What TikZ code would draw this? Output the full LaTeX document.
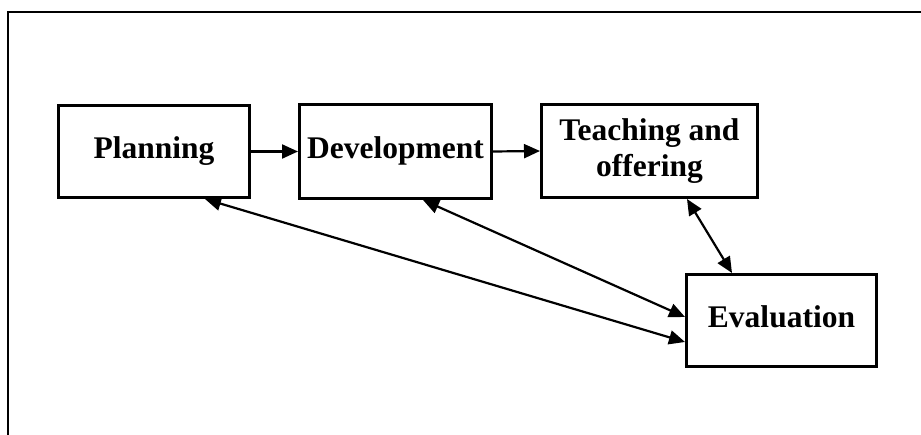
\documentclass[tikz,border=0pt]{standalone}
\usepackage{fontspec}
\setmainfont{Liberation Serif}
\usetikzlibrary{arrows.meta}
\tikzset{
  stage/.style={draw, line width=3pt, inner sep=0pt, align=center,
    font=\bfseries\fontsize{31.5pt}{36pt}\selectfont},
  tip/.style={Triangle[length=16pt,width=14pt]},
  link/.style={line width=2.2pt, -{Triangle[length=16pt,width=14pt]}},
  twoway/.style={line width=2.2pt, {Triangle[length=16pt,width=14pt]}-{Triangle[length=16pt,width=14pt]}},
  frame/.style={line width=2pt}
}
\begin{document}
\begin{tikzpicture}[x=1pt,y=-1pt]
\useasboundingbox (0,0) rectangle (921,435);
% open page frame: left and top edges only
\draw[frame] (8,440) -- (8,12) -- (925,12);

\node[stage, minimum width=191pt, minimum height=92pt, text depth=7pt] (plan) at (154,151.5) {Planning};
\node[stage, minimum width=192pt, minimum height=94pt, text depth=7pt] (dev) at (395.5,151.5) {Development};
\node[stage, minimum width=216pt, minimum height=93pt] (teach) at (649.5,151) {Teaching and\\offering};
\node[stage, minimum width=190pt, minimum height=92pt, text depth=7pt] (eval) at (781.5,320.5) {Evaluation};

\draw[link] (plan.east) -- (dev.west);
\draw[link] (dev.east) -- (teach.west);
\draw[twoway] ([xshift=51pt]plan.south) -- ([yshift=-21.5pt]eval.west);
\draw[twoway] ([xshift=27.5pt]dev.south) -- ([yshift=3.5pt]eval.west);
\draw[twoway] ([xshift=37.5pt]teach.south) -- ([xshift=-49.5pt]eval.north);
\end{tikzpicture}
\end{document}
